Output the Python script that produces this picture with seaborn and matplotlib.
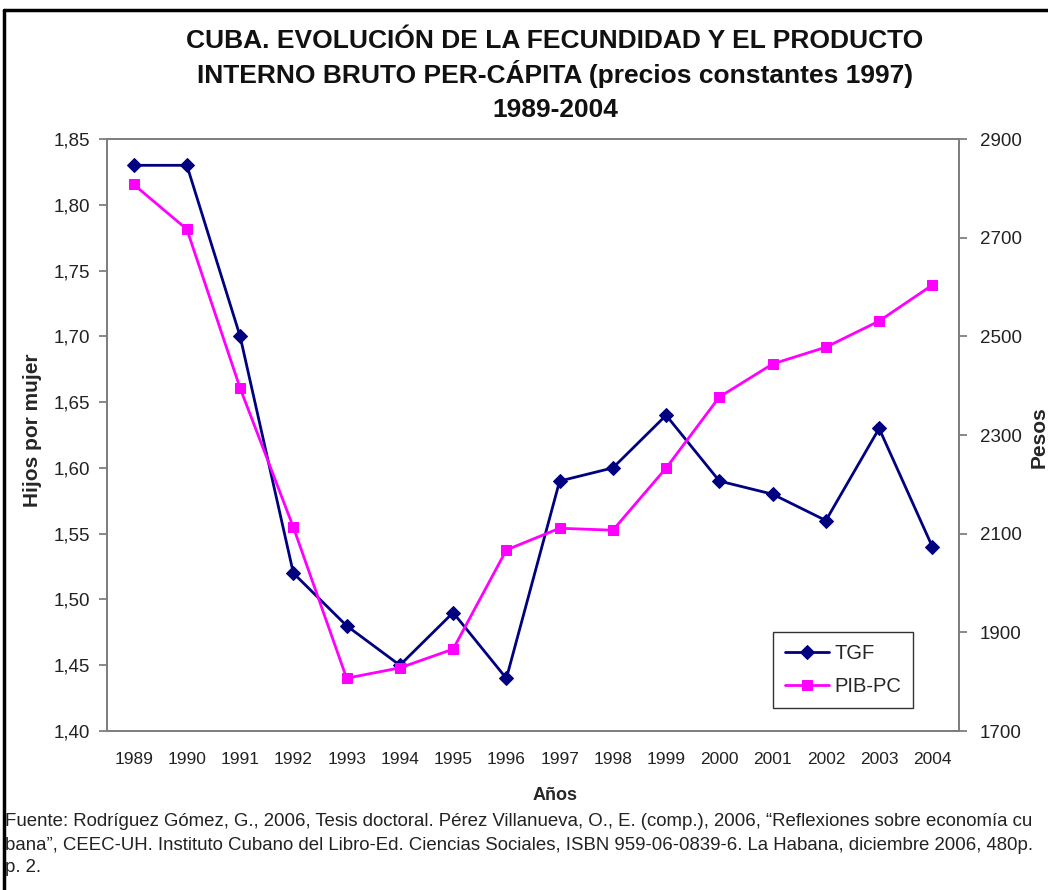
import numpy as np
import pandas as pd
import matplotlib
matplotlib.use("Agg")
import matplotlib.pyplot as plt
import seaborn as sns
from matplotlib.lines import Line2D
from matplotlib.ticker import FuncFormatter

# ---------------- data ----------------
years = [1989, 1990, 1991, 1992, 1993, 1994, 1995, 1996,
         1997, 1998, 1999, 2000, 2001, 2002, 2003, 2004]
tgf = [1.83, 1.83, 1.70, 1.52, 1.48, 1.45, 1.49, 1.44,
       1.59, 1.60, 1.64, 1.59, 1.58, 1.56, 1.63, 1.54]
pib_pc = [2808, 2717, 2395, 2113, 1807, 1828, 1866, 2067,
          2111, 2107, 2233, 2377, 2444, 2478, 2531, 2604]
left_ticks = [1.40, 1.45, 1.50, 1.55, 1.60, 1.65, 1.70, 1.75, 1.80, 1.85]
right_ticks = [1700, 1900, 2100, 2300, 2500, 2700, 2900]
series_names = ["TGF", "PIB-PC"]

title_lines = [
    "CUBA. EVOLUCIÓN DE LA FECUNDIDAD Y EL PRODUCTO",
    "INTERNO BRUTO PER-CÁPITA (precios constantes 1997)",
    "1989-2004",
]
x_label = "Años"
y_left_label = "Hijos por mujer"
y_right_label = "Pesos"
source_lines = [
    "Fuente: Rodríguez Gómez, G., 2006, Tesis doctoral. Pérez Villanueva, O., E. (comp.), 2006, \u201cReflexiones sobre economía cu",
    "bana\u201d, CEEC-UH. Instituto Cubano del Libro-Ed. Ciencias Sociales, ISBN 959-06-0839-6. La Habana, diciembre 2006, 480p.",
    "p. 2.",
]

# ---------------- style ----------------
sns.set_style("white")
plt.rcParams['font.family'] = ['Liberation Sans', 'DejaVu Sans']

W, H = 1048, 890
fig = plt.figure(figsize=(W / 100, H / 100), dpi=100)
fig.patch.set_facecolor("white")

L, R, T, B = 107, 959, 139, 731
ax = fig.add_axes([L / W, 1 - B / H, (R - L) / W, (B - T) / H])
ax2 = ax.twinx()

df = pd.DataFrame({"Año": years, "TGF": tgf, "PIB-PC": pib_pc})

navy = "#000080"
magenta = "#FF00FF"

sns.lineplot(data=df, x="Año", y="TGF", ax=ax, color=navy, marker="D",
             markersize=7.5, markeredgecolor=navy, markerfacecolor=navy,
             linewidth=2, label=series_names[0])
sns.lineplot(data=df, x="Año", y="PIB-PC", ax=ax2, color=magenta, marker="s",
             markersize=7, markeredgecolor=magenta, markerfacecolor=magenta,
             linewidth=2, label=series_names[1])
for a in (ax, ax2):
    if a.get_legend() is not None:
        a.get_legend().remove()

# axes limits / ticks
ax.set_xlim(years[0] - 0.5, years[-1] + 0.5)
ax.set_ylim(left_ticks[0], left_ticks[-1])
ax2.set_ylim(right_ticks[0], right_ticks[-1])

ax.set_xticks(years)
ax.set_xticklabels([str(y) for y in years])
ax.set_xticks(np.arange(years[0] - 0.5, years[-1] + 1, 1.0), minor=True)
ax.set_yticks(left_ticks)
ax.yaxis.set_major_formatter(FuncFormatter(lambda v, p: f"{v:.2f}".replace(".", ",")))
ax2.set_yticks(right_ticks)
ax2.set_yticklabels([str(v) for v in right_ticks])

gray = "#7f7f7f"
for a in (ax, ax2):
    for s in a.spines.values():
        s.set_color(gray)
        s.set_linewidth(1.4)
    a.grid(False)

ax.tick_params(axis="x", which="major", length=0, labelsize=12.5, pad=15, labelcolor="#222222")
ax.tick_params(axis="x", which="minor", length=6, width=1.3, color=gray, direction="out")
ax.tick_params(axis="y", which="major", length=6, width=1.3, color=gray, direction="out",
               labelsize=13.5, pad=6, labelcolor="#222222", left=True)
ax2.tick_params(axis="y", which="major", length=6, width=1.3, color=gray, direction="out",
                labelsize=13.5, pad=9, labelcolor="#222222", right=True)

# axis labels
ax.set_xlabel(x_label, fontsize=13, fontweight="bold", va="center")
ax.xaxis.set_label_coords((555 - L) / (R - L), (B - 795) / (B - T))
ax.set_ylabel(y_left_label, fontsize=15, fontweight="bold", va="center")
ax.yaxis.set_label_coords((32 - L) / (R - L), (B - 430) / (B - T))
ax2.set_ylabel(y_right_label, fontsize=15, fontweight="bold", va="center", rotation=90)
ax2.yaxis.set_label_coords((1039 - L) / (R - L), (B - 437) / (B - T))

# legend
h1, l1 = ax.get_legend_handles_labels()
h2, l2 = ax2.get_legend_handles_labels()
leg = ax2.legend(h1 + h2, l1 + l2, loc="upper left",
                 bbox_to_anchor=((773 - L) / (R - L), (B - 632) / (B - T)),
                 fontsize=14.5, frameon=True, fancybox=False, shadow=False,
                 framealpha=1, edgecolor="#333333", handlelength=2.2,
                 handletextpad=0.25, borderpad=0.6, labelspacing=0.7,
                 borderaxespad=0)
leg.get_frame().set_linewidth(1.0)

# title (three centred lines, baseline aligned)
for line, ypx in zip(title_lines, [48, 83, 117]):
    fig.text(555 / W, 1 - ypx / H, line, ha="center", va="baseline",
             fontsize=19, fontweight="bold", color="#111111")

# source
for i, line in enumerate(source_lines):
    fig.text(5 / W, 1 - (822 + 23 * i) / H, line, ha="left", va="center",
             fontsize=13.4, color="#222222")

# outer frame (left and top edges visible)
fig.add_artist(Line2D([4 / W, 4 / W], [0, 1 - 10 / H], transform=fig.transFigure,
                      color="black", linewidth=2.5))
fig.add_artist(Line2D([4 / W, 1], [1 - 10 / H, 1 - 10 / H], transform=fig.transFigure,
                      color="black", linewidth=2.5))

fig.savefig("out.png", dpi=100, facecolor="white")
